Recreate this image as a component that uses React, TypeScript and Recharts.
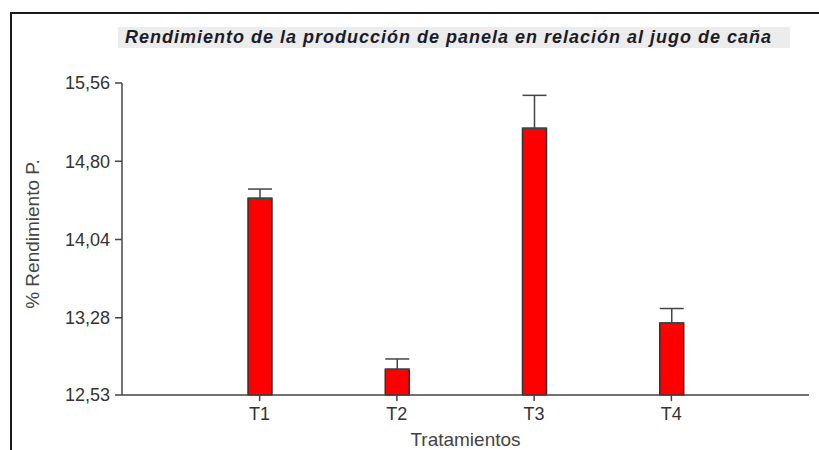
import React from "react";
import { BarChart, Bar, XAxis, YAxis, ErrorBar } from "recharts";

// Rendimiento (%) por tratamiento, con su error (solo hacia arriba)
const categories = ["T1", "T2", "T3", "T4"];
const yieldPct = [14.44, 12.78, 15.12, 13.23];
const yieldErr = [0.09, 0.1, 0.32, 0.14];
const yTicks = [12.53, 13.28, 14.04, 14.8, 15.56];

const data = categories.map((name, i) => ({
  name,
  value: yieldPct[i],
  err: [0, yieldErr[i]],
}));

const FONT = '"Liberation Sans", Arial, sans-serif';
const AXIS = "#444";

const fmtTick = (v: number) => v.toFixed(2).replace(".", ",");

export default function App() {
  return (
    <div
      style={{
        position: "fixed",
        left: 0,
        top: 0,
        width: 819,
        height: 450,
        overflow: "hidden",
        background: "#fff",
        fontFamily: FONT,
      }}
    >
      {/* marco */}
      <div
        style={{
          position: "absolute",
          left: 10,
          top: 12,
          width: 840,
          height: 460,
          border: "2px solid #1a1a1a",
          boxSizing: "border-box",
        }}
      />
      <div
        style={{
          position: "absolute",
          left: 118,
          top: 27,
          width: 672,
          height: 21,
          background: "#ececec",
          color: "#1c1c28",
          fontWeight: "bold",
          fontStyle: "italic",
          fontSize: 18,
          letterSpacing: 1,
          lineHeight: "21px",
          paddingLeft: 7,
          boxSizing: "border-box",
          whiteSpace: "nowrap",
        }}
      >
        Rendimiento de la producción de panela en relación al jugo de caña
      </div>
      <div
        style={{
          position: "absolute",
          left: 33,
          top: 234,
          transform: "translate(-50%, -50%) rotate(-90deg)",
          whiteSpace: "nowrap",
          fontSize: 19,
          color: "#444",
        }}
      >
        % Rendimiento P.
      </div>
      <div style={{ position: "absolute", left: 0, top: 0 }}>
        <BarChart
          width={819}
          height={450}
          data={data}
          margin={{ top: 83, right: 10, bottom: 0, left: 0 }}
        >
          <XAxis
            dataKey="name"
            height={55}
            padding={{ left: 69, right: 69 }}
            stroke={AXIS}
            strokeWidth={1.5}
            tickSize={6}
            tickMargin={6}
            tick={{ fill: "#333", fontSize: 18, fontFamily: FONT }}
            label={{
              value: "Tratamientos",
              position: "insideBottom",
              offset: 4,
              fill: "#444",
              fontSize: 19,
              fontFamily: FONT,
            }}
          />
          <YAxis
            width={122}
            domain={[12.53, 15.56]}
            ticks={yTicks}
            tickFormatter={fmtTick}
            stroke={AXIS}
            strokeWidth={1.5}
            tickSize={7}
            tickMargin={5}
            tick={{ fill: "#333", fontSize: 18, fontFamily: FONT }}
          />
          <Bar
            dataKey="value"
            barSize={24}
            fill="#ff0000"
            stroke="#333"
            strokeWidth={1.5}
            isAnimationActive={false}
          >
            <ErrorBar
              dataKey="err"
              width={12}
              stroke="#444"
              strokeWidth={1.5}
              isAnimationActive={false}
            />
          </Bar>
        </BarChart>
      </div>
    </div>
  );
}
